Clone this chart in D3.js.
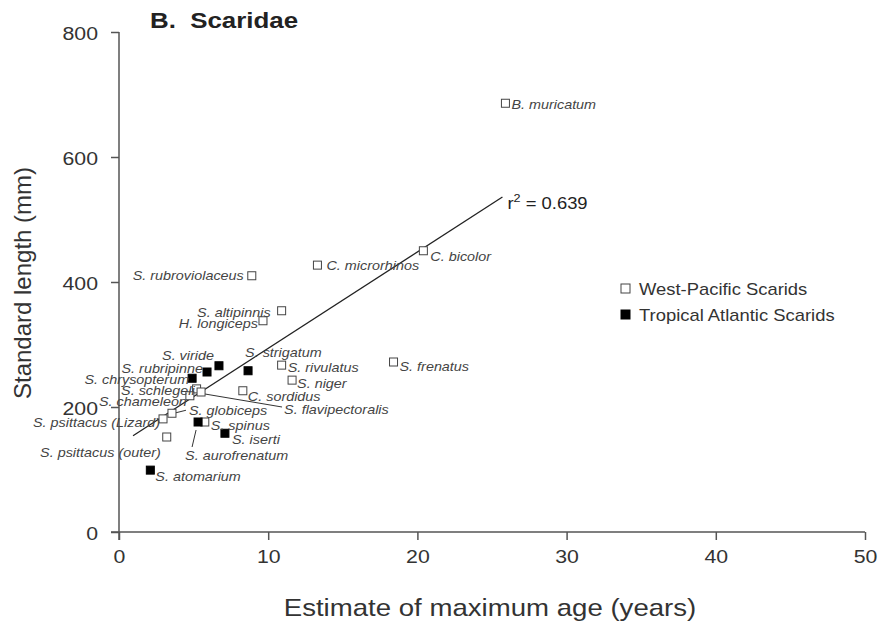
<!DOCTYPE html>
<html>
<head>
<meta charset="utf-8">
<script src="https://cdn.jsdelivr.net/npm/d3@7"></script>
<style>
  body { margin: 0; background: #fff; }
  svg { font-family: "Liberation Sans", Arial, sans-serif; }
</style>
</head>
<body>
<div id="chart"></div>
<script>
// West-Pacific scarids (open squares)
const wpNames = ["B. muricatum", "C. bicolor", "C. microrhinos", "S. rubroviolaceus", "S. altipinnis",
  "H. longiceps", "S. rivulatus", "S. frenatus", "S. niger", "C. sordidus", "S. schlegeli",
  "S. flavipectoralis", "S. chameleon", "S. globiceps", "S. psittacus (Lizard)", "S. psittacus (outer)", "S. spinus"];
const wpAge = [25.9, 20.4, 13.3, 8.9, 10.9, 9.65, 10.9, 18.4, 11.6, 8.3, 5.2, 5.5, 4.75, 3.55, 2.95, 3.2, 5.75];
const wpLength = [686, 450, 427, 410, 354, 338, 267, 272, 243, 226, 229, 224, 218, 190, 181, 152, 176];

// Tropical Atlantic scarids (filled squares)
const taNames = ["S. viride", "S. rubripinne", "S. chrysopterum", "S. strigatum", "S. aurofrenatum", "S. iserti", "S. atomarium"];
const taAge = [6.7, 5.9, 4.9, 8.65, 5.3, 7.1, 2.1];
const taLength = [266, 256, 246, 258, 176, 158, 99];

// regression line end points
const fitAge = [0.94, 25.7];
const fitLength = [154, 536];
const r2 = "0.639";

const xTicks = [0, 10, 20, 30, 40, 50];
const yTicks = [0, 200, 400, 600, 800];

// label placement: [dx, dy, anchor, leader]
const labelPos = {
  "B. muricatum": [6, 6, "start"],
  "C. bicolor": [7, 10, "start"],
  "C. microrhinos": [9, 5, "start"],
  "S. rubroviolaceus": [-8, 4, "end"],
  "S. altipinnis": [-11, 6, "end"],
  "H. longiceps": [-5, 7, "end"],
  "S. rivulatus": [6, 7, "start"],
  "S. frenatus": [6, 9, "start"],
  "S. niger": [5, 8, "start"],
  "C. sordidus": [5, 10, "start"],
  "S. schlegeli": [-2, 6, "end"],
  "S. flavipectoralis": [83, 22, "start", [-2, 1, 81, 15]],
  "S. chameleon": [-3, 10, "end"],
  "S. globiceps": [17, 2, "start", [2, 0, 14, -3]],
  "S. psittacus (Lizard)": [-3, 8, "end"],
  "S. psittacus (outer)": [-6, 20, "end"],
  "S. spinus": [6, 8, "start"],
  "S. viride": [-5, -6, "end"],
  "S. rubripinne": [-4, 1, "end"],
  "S. chrysopterum": [-3, 6, "end"],
  "S. strigatum": [-3, -14, "start"],
  "S. aurofrenatum": [-13, 38, "start", [-2, 8, -6, 25]],
  "S. iserti": [7, 11, "start"],
  "S. atomarium": [5, 11, "start"]
};

const width = 878, height = 631;
const margin = {top: 32, right: 13, bottom: 99, left: 119};
const sx = 1.15; // horizontal stretch of the original figure

const svg = d3.select("#chart").append("svg")
  .attr("width", width)
  .attr("height", height);

const x = d3.scaleLinear().domain([0, 50]).range([margin.left, width - margin.right]);
const y = d3.scaleLinear().domain([0, 800]).range([height - margin.bottom, margin.top]);

const axisColor = "#555";

function stretch(sel, px, py) {
  sel.attr("x", 0).attr("y", 0)
    .attr("transform", "translate(" + px + "," + py + ") scale(" + sx + ",1)");
}

// axes
const gx = svg.append("g")
  .attr("transform", "translate(0," + y(0) + ")")
  .call(d3.axisBottom(x).tickValues(xTicks).tickSize(8).tickSizeOuter(0));
gx.select(".domain").attr("d", "M" + (x(0) - 8) + ",0H" + x(50));
gx.selectAll(".tick text")
  .attr("font-size", 18.5).attr("fill", "#333").attr("dy", null)
  .each(function() { stretch(d3.select(this), 0, 31); });

const gy = svg.append("g")
  .attr("transform", "translate(" + x(0) + ",0)")
  .call(d3.axisLeft(y).tickValues(yTicks).tickSize(8).tickSizeOuter(0));
gy.select(".domain").attr("d", "M0," + y(800) + "V" + (y(0) + 8));
gy.selectAll(".tick text")
  .attr("font-size", 18.5).attr("fill", "#333").attr("dy", null)
  .each(function() { stretch(d3.select(this), -21, 7); });

svg.selectAll(".domain, .tick line").attr("stroke", axisColor).attr("stroke-width", 1.5);

// titles
svg.append("text")
  .attr("font-size", 22.5).attr("font-weight", "bold").attr("fill", "#222")
  .style("white-space", "pre")
  .text("B.  Scaridae")
  .call(stretch, 150, 28);

svg.append("text")
  .attr("text-anchor", "middle")
  .attr("font-size", 24).attr("fill", "#333")
  .text("Estimate of maximum age (years)")
  .call(stretch, 490, 616);

svg.append("text")
  .attr("transform", "translate(31," + 283 + ") rotate(-90)")
  .attr("text-anchor", "middle")
  .attr("font-size", 24).attr("fill", "#333")
  .text("Standard length (mm)");

// regression line
svg.append("line")
  .attr("x1", x(fitAge[0])).attr("y1", y(fitLength[0]))
  .attr("x2", x(fitAge[1])).attr("y2", y(fitLength[1]))
  .attr("stroke", "#222").attr("stroke-width", 1.3);

const r2Text = svg.append("text")
  .attr("font-size", 16).attr("fill", "#222")
  .call(stretch, x(fitAge[1]) + 5, y(fitLength[1]) + 12);
r2Text.append("tspan").text("r");
r2Text.append("tspan").attr("dy", -7).attr("font-size", 11).text("2");
r2Text.append("tspan").attr("dy", 7).text(" = " + r2);

// points
const wp = wpNames.map((n, i) => ({name: n, age: wpAge[i], len: wpLength[i], filled: false}));
const ta = taNames.map((n, i) => ({name: n, age: taAge[i], len: taLength[i], filled: true}));
const pts = wp.concat(ta);

// leader lines
pts.forEach(d => {
  const p = labelPos[d.name];
  if (p && p[3]) {
    const l = p[3];
    svg.append("line")
      .attr("x1", x(d.age) + l[0]).attr("y1", y(d.len) + l[1])
      .attr("x2", x(d.age) + l[2]).attr("y2", y(d.len) + l[3])
      .attr("stroke", "#333").attr("stroke-width", 1);
  }
});

const s = 8;
svg.selectAll("rect.pt")
  .data(pts)
  .enter().append("rect")
  .attr("class", "pt")
  .attr("x", d => x(d.age) - s / 2)
  .attr("y", d => y(d.len) - s / 2)
  .attr("width", s).attr("height", s)
  .attr("fill", d => d.filled ? "#000" : "#fff")
  .attr("stroke", d => d.filled ? "#000" : "#444")
  .attr("stroke-width", 1);

svg.selectAll("text.lbl")
  .data(pts)
  .enter().append("text")
  .attr("class", "lbl")
  .attr("text-anchor", d => labelPos[d.name][2])
  .attr("font-size", 12.5).attr("font-style", "italic").attr("fill", "#444")
  .text(d => d.name)
  .each(function(d) {
    stretch(d3.select(this), x(d.age) + labelPos[d.name][0], y(d.len) + labelPos[d.name][1]);
  });

// legend
const legend = [["West-Pacific Scarids", false], ["Tropical Atlantic Scarids", true]];
const lg = svg.append("g").attr("transform", "translate(621,284)");
legend.forEach((d, i) => {
  lg.append("rect")
    .attr("x", 0).attr("y", i * 26)
    .attr("width", 9).attr("height", 9)
    .attr("fill", d[1] ? "#000" : "#fff")
    .attr("stroke", d[1] ? "#000" : "#444");
  lg.append("text")
    .attr("font-size", 16).attr("fill", "#333")
    .text(d[0])
    .call(stretch, 18, i * 26 + 11);
});
</script>
</body>
</html>
